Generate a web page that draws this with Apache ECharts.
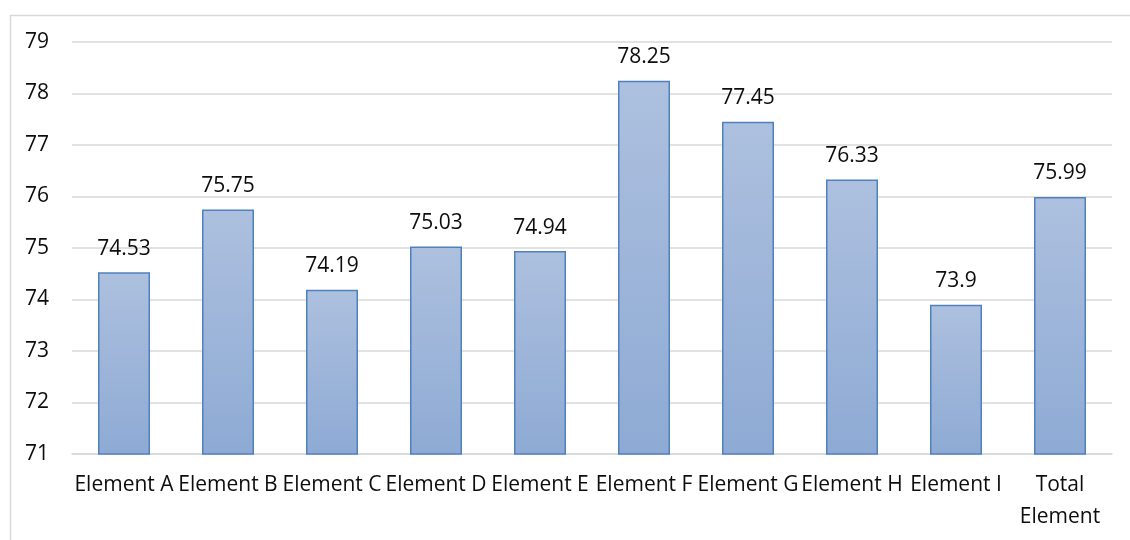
<!DOCTYPE html>
<html>
<head>
<meta charset="utf-8">
<script src="https://cdn.jsdelivr.net/npm/echarts@6/dist/echarts.min.js"></script>
<style>html,body{margin:0;padding:0;background:#fff}#c{width:1130px;height:540px}</style>
</head>
<body>
<div id="c"></div>
<script>
const categories = ['Element A','Element B','Element C','Element D','Element E','Element F','Element G','Element H','Element I','Total Element'];
const values = [74.53, 75.75, 74.19, 75.03, 74.94, 78.25, 77.45, 76.33, 73.9, 75.99];
const yMin = 71, yMax = 79, yStep = 1;

const chart = echarts.init(document.getElementById('c'), null, {renderer: 'canvas'});
const font = '"Open Sans", "Noto Sans", sans-serif';
chart.setOption({
  animation: false,
  backgroundColor: '#fff',
  graphic: [{
    type: 'rect', left: 8, top: 13,
    shape: {width: 1140, height: 560},
    style: {fill: 'none', stroke: '#d9d9d9', lineWidth: 1.5},
    silent: true
  }],
  grid: {left: 72, right: 18, top: 42, bottom: 86, containLabel: false},
  xAxis: {
    type: 'category',
    data: categories,
    axisLine: {show: true, lineStyle: {color: '#d9d9d9', width: 1.5}},
    axisTick: {show: false},
    axisLabel: {
      interval: 0, margin: 15, color: '#0d0d0d', fontSize: 21, fontFamily: font, lineHeight: 32,
      formatter: v => v.replace('Total ', 'Total\n')
    }
  },
  yAxis: {
    type: 'value', min: yMin, max: yMax, interval: yStep,
    axisLine: {show: false}, axisTick: {show: false},
    axisLabel: {margin: 23, color: '#0d0d0d', fontSize: 21, fontFamily: font},
    splitLine: {lineStyle: {color: '#d9d9d9', width: 1.5}}
  },
  series: [{
    type: 'bar',
    data: values,
    barWidth: 52,
    itemStyle: {
      color: new echarts.graphic.LinearGradient(0, 0, 0, 1, [
        {offset: 0, color: '#adc0df'},
        {offset: 1, color: '#8eaad4'}
      ]),
      borderColor: '#4f81bd',
      borderWidth: 1.5
    },
    label: {
      show: true, position: 'top', distance: 13,
      color: '#0d0d0d', fontSize: 21, fontFamily: font
    }
  }]
});
</script>
</body>
</html>
